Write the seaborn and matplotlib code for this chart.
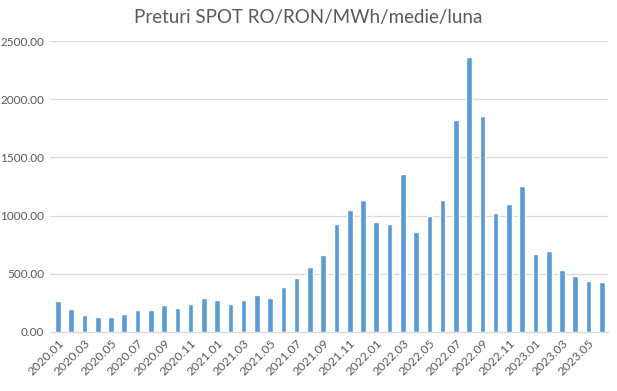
import numpy as np
import pandas as pd
import matplotlib
matplotlib.use("Agg")
import matplotlib.pyplot as plt
import seaborn as sns

# monthly average SPOT price, RON/MWh
months = [f"{y}.{m:02d}" for y in range(2020, 2024) for m in range(1, 13)][:42]
prices = [
    263, 194, 143, 126, 126, 151, 186, 186, 229, 203, 237, 289,
    271, 237, 271, 314, 289, 383, 460, 554, 663, 929, 1049, 1134,
    946, 929, 1357, 860, 997, 1134, 1823, 2366, 1854, 1023, 1100, 1254,
    671, 697, 534, 483, 440, 431,
]
y_ticks = [0, 500, 1000, 1500, 2000, 2500]

TITLE = "Preturi SPOT RO/RON/MWh/medie/luna"
BAR_COLOR = "#5b9bd5"
TEXT_COLOR = "#595959"
GRID_COLOR = "#d9d9d9"


def main():
    df = pd.DataFrame({"luna": months, "pret": prices})

    sns.set_style("white")
    plt.rcParams["font.family"] = ["Lato", "DejaVu Sans"]

    fig = plt.figure(figsize=(6.17, 3.91), dpi=100)
    ax = fig.add_axes([0.081, 0.151, 0.904, 0.744])

    sns.barplot(data=df, x="luna", y="pret", order=months, color=BAR_COLOR,
                width=0.42, saturation=1, ax=ax, zorder=3)

    ax.set_ylim(0, 2500)
    ax.set_yticks(y_ticks)
    ax.set_yticklabels([f"{v:.2f}" for v in y_ticks], fontsize=8.5, color=TEXT_COLOR)
    ax.yaxis.grid(True, color=GRID_COLOR, linewidth=0.9, zorder=0)
    ax.set_axisbelow(True)

    idx = np.arange(0, len(months), 2)
    ax.set_xticks(idx)
    ax.set_xticklabels([months[i] for i in idx], rotation=45, ha="right",
                       rotation_mode="anchor", fontsize=8.8, color=TEXT_COLOR)
    ax.set_xlim(-0.6, len(months) - 0.55)

    ax.tick_params(axis="both", length=0, pad=4)
    ax.set_xlabel("")
    ax.set_ylabel("")
    for side in ["top", "right", "left"]:
        ax.spines[side].set_visible(False)
    ax.spines["bottom"].set_color(GRID_COLOR)
    ax.spines["bottom"].set_zorder(4)

    fig.suptitle(TITLE, x=0.5, y=0.978, fontsize=13.5, color=TEXT_COLOR)

    plt.savefig("out.png", dpi=100)


if __name__ == "__main__":
    main()
